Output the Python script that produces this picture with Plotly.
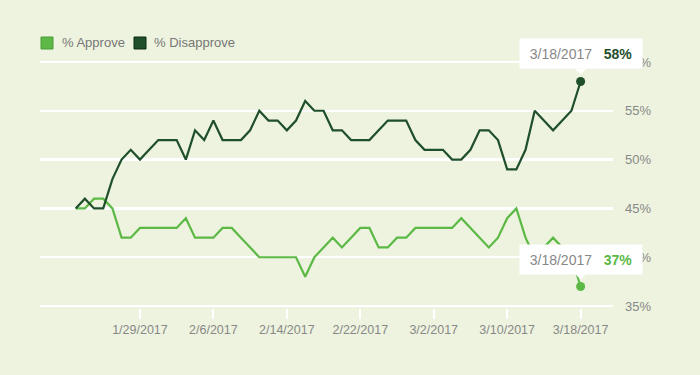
import pandas as pd
import plotly.graph_objects as go

dates = pd.date_range("2017-01-22", "2017-03-18", freq="D")
approve = [45, 45, 46, 46, 45, 42, 42, 43, 43, 43,
           43, 43, 44, 42, 42, 42, 43, 43, 42, 41,
           40, 40, 40, 40, 40, 38, 40, 41, 42, 41,
           42, 43, 43, 41, 41, 42, 42, 43, 43, 43,
           43, 43, 44, 43, 42, 41, 42, 44, 45, 42,
           40, 41, 42, 41, 40, 37]
disapprove = [45, 46, 45, 45, 48, 50, 51, 50, 51, 52,
              52, 52, 50, 53, 52, 54, 52, 52, 52, 53,
              55, 54, 54, 53, 54, 56, 55, 55, 53, 53,
              52, 52, 52, 53, 54, 54, 54, 52, 51, 51,
              51, 50, 50, 51, 53, 53, 52, 49, 49, 51,
              55, 54, 53, 54, 55, 58]
series_names = ["% Approve", "% Disapprove"]
x_ticks = ["2017-01-29", "2017-02-06", "2017-02-14", "2017-02-22",
           "2017-03-02", "2017-03-10", "2017-03-18"]
x_tick_labels = ["1/29/2017", "2/6/2017", "2/14/2017", "2/22/2017",
                 "3/2/2017", "3/10/2017", "3/18/2017"]
y_ticks = [35, 40, 45, 50, 55, 60]
y_tick_labels = ["35%", "40%", "45%", "50%", "55%", "60%"]

C_APP = "#5cb946"
C_DIS = "#1f4f2b"
BG = "#edf3de"
FONT = "Liberation Sans, Arial, sans-serif"

W, H = 700, 375
ML, MR, MT, MB = 40, 87, 60, 67
PW = W - ML - MR
PH = H - MT - MB


def px_to_paper_x(px):
    return (px - ML) / PW


def px_to_paper_y(py):
    return 1 - (py - MT) / PH


fig = go.Figure()
for vals, col in [(approve, C_APP), (disapprove, C_DIS)]:
    fig.add_trace(go.Scatter(x=dates, y=vals, mode="lines",
                             line=dict(color=col, width=2.2),
                             showlegend=False, hoverinfo="skip"))
    fig.add_trace(go.Scatter(x=[dates[-1]], y=[vals[-1]], mode="markers",
                             marker=dict(color=col, size=9),
                             showlegend=False, hoverinfo="skip"))

# custom legend (squares + labels)
legend_items = [(series_names[0], C_APP, "#4a9a38", 41, 60),
                (series_names[1], C_DIS, "#0f2a16", 134, 152)]
for name, col, border, sq_x, tx in legend_items:
    fig.add_shape(type="rect", xref="paper", yref="paper",
                  x0=px_to_paper_x(sq_x), x1=px_to_paper_x(sq_x + 12),
                  y0=px_to_paper_y(49), y1=px_to_paper_y(37),
                  fillcolor=col, line=dict(color=border, width=1))
    fig.add_annotation(x=px_to_paper_x(tx), y=px_to_paper_y(43),
                       xref="paper", yref="paper", text=name,
                       showarrow=False, xanchor="left", yanchor="middle",
                       font=dict(family=FONT, size=13, color="#777"))

# tooltips at the last points
for vals, col in [(disapprove, C_DIS), (approve, C_APP)]:
    d = dates[-1]
    fig.add_annotation(x=d, y=vals[-1], xref="x", yref="y",
                       text=f"<span style='color:#888'>{d.month}/{d.day}/{d.year}</span>"
                            f"&nbsp;&nbsp;&nbsp;<b><span style='color:{col}'>{vals[-1]}%</span></b>",
                       showarrow=False, xanchor="center", yanchor="bottom",
                       yshift=12, width=118, height=25, bgcolor="white",
                       borderpad=2, font=dict(family=FONT, size=14))
    fig.add_shape(type="path", xref="x", yref="y",
                  xsizemode="pixel", ysizemode="pixel",
                  xanchor=d, yanchor=vals[-1],
                  path="M -6 13 L 6 13 L 0 7 Z",
                  fillcolor="white", line=dict(width=0))

fig.update_layout(
    width=W, height=H,
    paper_bgcolor=BG, plot_bgcolor=BG,
    margin=dict(l=ML, r=MR, t=MT, b=MB),
    font=dict(family=FONT, color="#888", size=13),
    showlegend=False,
    xaxis=dict(range=["2017-01-18 02:44", "2017-03-21 12:39"],
               tickvals=x_ticks, ticktext=x_tick_labels,
               showgrid=False, zeroline=False, showline=False,
               ticks="outside", ticklen=10, tickwidth=2, tickcolor="white",
               tickfont=dict(size=12.5, color="#888")),
    yaxis=dict(range=[34.8, 60.2], side="right",
               tickvals=y_ticks, ticktext=y_tick_labels,
               showgrid=True, gridcolor="white", gridwidth=2.5,
               zeroline=False, showline=False, ticks="",
               ticklabelstandoff=11,
               tickfont=dict(size=13, color="#888")),
)

fig.write_html("out.html",
               config={"displayModeBar": False, "staticPlot": True},
               post_script="document.body.style.margin='0';document.body.style.background='" + BG + "';")
